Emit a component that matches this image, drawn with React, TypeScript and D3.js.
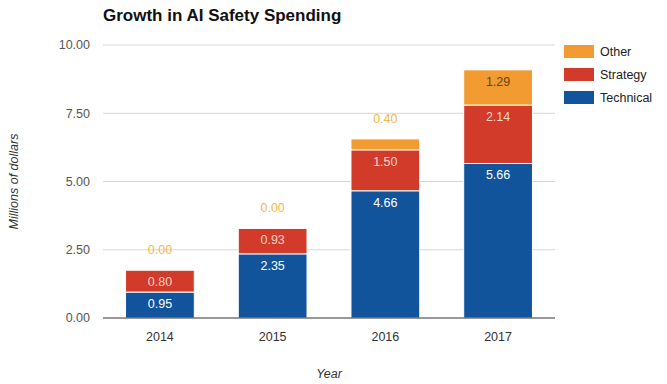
import React, { useRef, useEffect } from "react";
import * as d3 from "d3";

const years = ["2014", "2015", "2016", "2017"];
const technical = [0.95, 2.35, 4.66, 5.66];
const strategy = [0.8, 0.93, 1.5, 2.14];
const other = [0.0, 0.0, 0.4, 1.29];
const seriesNames = ["Technical", "Strategy", "Other"];
const yTicks = [0, 2.5, 5, 7.5, 10];

const colors: Record<string, string> = {
  Technical: "#11549b",
  Strategy: "#d23b2a",
  Other: "#f29b31",
};
const labelColors: Record<string, string> = {
  Technical: "#ffffff",
  Strategy: "#fbd3c8",
  Other: "#6b4310",
};
const outsideLabelColor = "#f2b74a";

const App: React.FC = () => {
  const svgRef = useRef<SVGSVGElement | null>(null);

  useEffect(() => {
    if (!svgRef.current) return;
    const width = 667;
    const height = 384;
    const margin = { left: 103, right: 112, top: 45, bottom: 66 };

    const svg = d3.select(svgRef.current);
    svg.selectAll("*").remove();

    const rows = years.map((y, i) => ({
      year: y,
      Technical: technical[i],
      Strategy: strategy[i],
      Other: other[i],
    }));

    const x = d3
      .scaleBand<string>()
      .domain(years)
      .range([margin.left, width - margin.right])
      .paddingInner(0.39)
      .paddingOuter(0.2);

    const y = d3
      .scaleLinear()
      .domain([0, 10])
      .range([height - margin.bottom, margin.top]);

    // title
    svg
      .append("text")
      .attr("x", 103)
      .attr("y", 21)
      .attr("font-family", "Liberation Sans, Arial, sans-serif")
      .attr("font-weight", "bold")
      .attr("font-size", 17)
      .attr("fill", "#111")
      .text("Growth in AI Safety Spending");

    // gridlines
    svg
      .append("g")
      .selectAll("line")
      .data(yTicks.filter((t) => t > 0))
      .enter()
      .append("line")
      .attr("x1", margin.left)
      .attr("x2", width - margin.right)
      .attr("y1", (d) => y(d))
      .attr("y2", (d) => y(d))
      .attr("stroke", "#d6d6d6")
      .attr("stroke-width", 1);

    // y tick labels
    svg
      .append("g")
      .selectAll("text")
      .data(yTicks)
      .enter()
      .append("text")
      .attr("x", 90)
      .attr("y", (d) => y(d))
      .attr("dy", "0.35em")
      .attr("text-anchor", "end")
      .attr("font-family", "Liberation Sans, Arial, sans-serif")
      .attr("font-size", 12.5)
      .attr("fill", "#555")
      .text((d) => d.toFixed(2));

    // y axis title
    svg
      .append("text")
      .attr("transform", `translate(18,${y(5)}) rotate(-90)`)
      .attr("text-anchor", "middle")
      .attr("font-family", "Liberation Sans, Arial, sans-serif")
      .attr("font-style", "italic")
      .attr("font-size", 12.5)
      .attr("fill", "#333")
      .text("Millions of dollars");

    const stack = d3.stack<any>().keys(seriesNames);
    const stacked = stack(rows);

    const layers = svg
      .append("g")
      .selectAll("g")
      .data(stacked)
      .enter()
      .append("g")
      .attr("fill", (d) => colors[d.key]);

    layers
      .selectAll("rect")
      .data((d) => d.map((p) => ({ p, key: d.key })))
      .enter()
      .append("rect")
      .attr("x", (d) => x(d.p.data.year)!)
      .attr("width", x.bandwidth())
      .attr("y", (d) => y(d.p[1]))
      .attr("height", (d) => Math.max(0, y(d.p[0]) - y(d.p[1])))
      .attr("stroke", "#fff")
      .attr("stroke-width", (d) => (d.p[1] - d.p[0] > 0 ? 1 : 0));

    // value labels
    stacked.forEach((layer) => {
      layer.forEach((p) => {
        const v = p[1] - p[0];
        const segH = y(p[0]) - y(p[1]);
        const inside = segH >= 18;
        svg
          .append("text")
          .attr("x", x(p.data.year)! + x.bandwidth() / 2)
          .attr("y", inside ? y(p[1]) + 16 : y(p[1]) - 16)
          .attr("text-anchor", "middle")
          .attr("font-family", "Liberation Sans, Arial, sans-serif")
          .attr("font-size", 12.5)
          .attr("fill", inside ? labelColors[layer.key] : outsideLabelColor)
          .text(v.toFixed(2));
      });
    });

    // baseline
    svg
      .append("line")
      .attr("x1", margin.left)
      .attr("x2", width - margin.right)
      .attr("y1", y(0))
      .attr("y2", y(0))
      .attr("stroke", "#333")
      .attr("stroke-width", 1);

    // x tick labels
    svg
      .append("g")
      .selectAll("text")
      .data(years)
      .enter()
      .append("text")
      .attr("x", (d) => x(d)! + x.bandwidth() / 2)
      .attr("y", y(0) + 23)
      .attr("text-anchor", "middle")
      .attr("font-family", "Liberation Sans, Arial, sans-serif")
      .attr("font-size", 12.5)
      .attr("fill", "#333")
      .text((d) => d);

    svg
      .append("text")
      .attr("x", (margin.left + width - margin.right) / 2)
      .attr("y", 378)
      .attr("text-anchor", "middle")
      .attr("font-family", "Liberation Sans, Arial, sans-serif")
      .attr("font-style", "italic")
      .attr("font-size", 12.5)
      .attr("fill", "#333")
      .text("Year");

    // legend
    const legendItems = ["Other", "Strategy", "Technical"];
    const lg = svg
      .append("g")
      .selectAll("g")
      .data(legendItems)
      .enter()
      .append("g")
      .attr("transform", (d, i) => `translate(564,${45 + i * 23})`);
    lg.append("rect")
      .attr("width", 30)
      .attr("height", 13)
      .attr("fill", (d) => colors[d]);
    lg.append("text")
      .attr("x", 36)
      .attr("y", 7)
      .attr("dy", "0.35em")
      .attr("font-family", "Liberation Sans, Arial, sans-serif")
      .attr("font-size", 12.5)
      .attr("fill", "#222")
      .text((d) => d);
  }, []);

  return (
    <svg
      ref={svgRef}
      width={667}
      height={384}
      style={{ position: "absolute", left: 0, top: 0, background: "#fff" }}
    ></svg>
  );
};

export default App;
